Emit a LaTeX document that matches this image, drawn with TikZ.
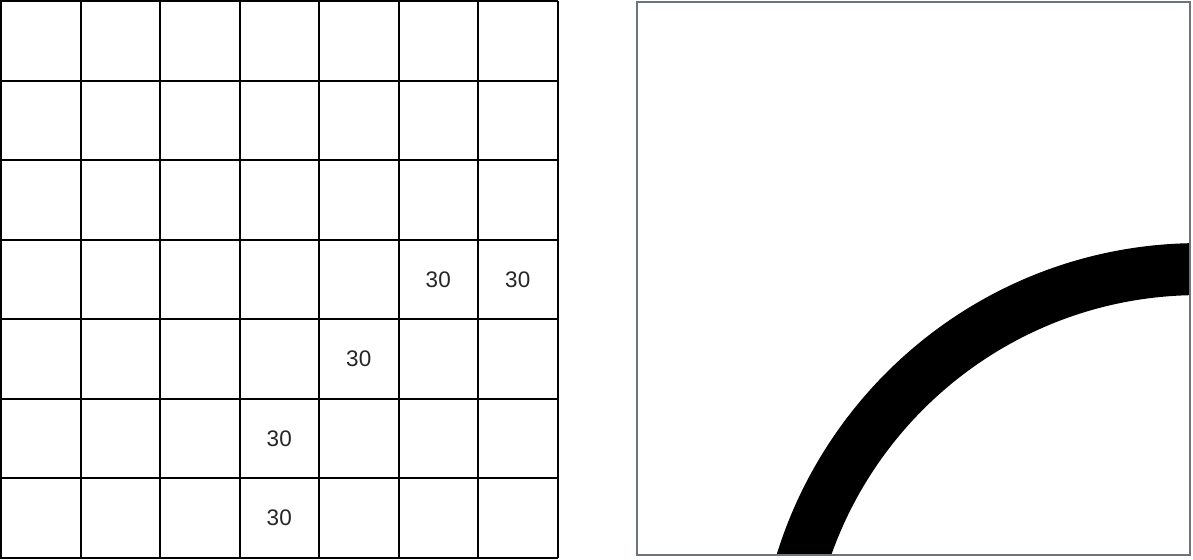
\documentclass[tikz,border=0pt]{standalone}
\usepackage{fontspec}
\setmainfont{Liberation Sans}
\definecolor{framegray}{RGB}{110,114,122}
\tikzset{
  gridline/.style={line width=0.04cm, black},
  cellval/.style={font=\fontsize{12.8}{15}\selectfont, text=black!85}
}
\begin{document}
\begin{tikzpicture}[x=0.02cm,y=-0.02cm]
    \useasboundingbox (0,0) rectangle (1193,559);
        % accumulator grid
        \foreach \x in {0,...,7} {
            \draw[gridline] ({1+79.5*\x}, 0.5) -- ({1+79.5*\x}, 557.5);
        }
        \foreach \y in {0,...,7} {
            \draw[gridline] (0, {1+79.5*\y}) -- (558, {1+79.5*\y});
        }
        \foreach \c/\r in {5/3, 6/3, 4/4, 3/5, 3/6} {
            \node[cellval] (val\c\r) at ({1+79.5*(\c+0.5)}, {1+79.5*(\r+0.5)}) {30};
        }
        % image with the arc
        \begin{scope}
          \clip (637,1.5) rectangle (1190,555);
          \draw[line width=1.04cm] (1199,685) circle[radius=8.32cm];
        \end{scope}
        \draw[framegray, line width=0.04cm] (637,1.5) rectangle (1190,555);
    \end{tikzpicture}
\end{document}
